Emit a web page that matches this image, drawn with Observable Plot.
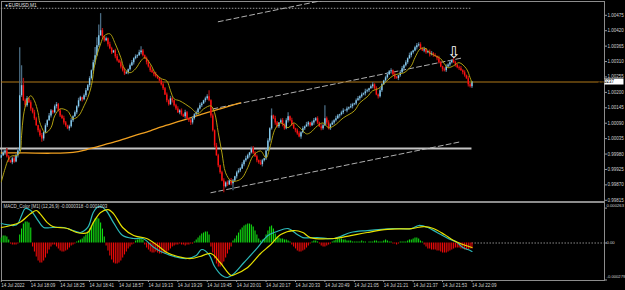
<!DOCTYPE html>
<html><head><meta charset="utf-8">
<script src="https://cdn.jsdelivr.net/npm/d3@7"></script>
<script src="https://cdn.jsdelivr.net/npm/@observablehq/plot@0.6"></script>
<style>
html,body{margin:0;padding:0;background:#000;}
#chart{width:625px;height:290px;overflow:hidden;background:#000;}
#chart svg{display:block;}
</style></head><body><div id="chart"></div>
<script>
// ---------- texts ----------
const symbolTitle = "EURUSD,M1";
const macdTitle = "MACD_Color [M1] (12,26,9) -0.0000318 -0.0001003";
const firstBar = "17:53";
const lastBar = "22:09";
// ---------- price axis (points, 1e-5) ----------
const yTickValues = [100475,100420,100365,100310,100255,100200,100145,100090,100035,99980,99925,99870,99815];
const yTickLabels = ["1.00475","1.00420","1.00365","1.00310","1.00255","1.00200","1.00145","1.00090","1.00035","0.99980","0.99925","0.99870","0.99815"];
const bidLevel = 100237, bidLabel = "1.00237";
const parityLevel = 100000;
const dottedLevel = 100500;
// ---------- time axis ----------
const xTickTimes = ["17:53","18:09","18:25","18:41","18:57","19:13","19:29","19:45","20:01","20:17","20:33","20:49","21:05","21:21","21:37","21:53","22:09"];
const xTickLabels = ["14 Jul 2022","14 Jul 18:09","14 Jul 18:25","14 Jul 18:41","14 Jul 18:57","14 Jul 19:13","14 Jul 19:29","14 Jul 19:45","14 Jul 20:01","14 Jul 20:17","14 Jul 20:33","14 Jul 20:49","14 Jul 21:05","14 Jul 21:21","14 Jul 21:37","14 Jul 21:53","14 Jul 22:09"];
// ---------- M1 candles (points) ----------
const open = [99965,99974,99984,99991,99970,99956,99949,99963,99952,99974,
99991,100188,100224,100170,100152,100177,100163,100141,100127,100106,
100081,100063,100045,100034,100056,100081,100099,100116,100134,100127,
100149,100156,100134,100116,100106,100091,100081,100070,100077,100099,
100113,100127,100149,100170,100181,100174,100188,100206,100224,100249,
100277,100306,100331,100366,100402,100420,100398,100384,100391,100370,
100356,100341,100348,100327,100313,100306,100291,100277,100266,100270,
100281,100295,100306,100320,100327,100331,100341,100348,100331,100320,
100306,100291,100277,100270,100263,100256,100249,100241,100227,100213,
100191,100170,100156,100177,100170,100152,100141,100127,100134,100120,
100113,100127,100106,100099,100091,100106,100120,100127,100141,100152,
100159,100170,100177,100184,100170,100116,100063,100009,99974,99938,
99913,99884,99863,99877,99870,99884,99874,99884,99899,99913,
99920,99927,99942,99956,99963,99974,99984,99999,99984,99970,
99956,99949,99942,99956,99963,99991,100027,100070,100116,100106,
100091,100077,100091,100099,100084,100070,100099,100113,100099,100084,
100070,100063,100052,100041,100056,100070,100077,100084,100091,100081,
100091,100099,100106,100091,100077,100070,100081,100106,100091,100070,
100084,100091,100099,100106,100116,100120,100127,100134,100134,100141,
100145,100149,100156,100159,100170,100177,100184,100191,100195,100202,
100206,100213,100220,100227,100213,100191,100184,100206,100227,100241,
100252,100263,100274,100277,100263,100252,100249,100259,100270,100284,
100295,100306,100320,100331,100341,100348,100359,100366,100370,100356,
100348,100352,100341,100345,100334,100338,100331,100327,100320,100306,
100291,100281,100277,100291,100298,100306,100313,100306,100298,100288,
100284,100277,100270,100259,100249,100227,100220];
const high = [99978,99991,99994,100000,99975,99958,99969,99971,99978,99998,
100359,100295,100250,100176,100185,100181,100170,100144,100136,100111,
100083,100069,100053,100060,100088,100102,100125,100139,100136,100155,
100164,100160,100141,100119,100115,100096,100083,100083,100107,100117,
100134,100152,100179,100186,100183,100194,100214,100228,100256,100280,
100315,100360,100395,100440,100481,100428,100402,100398,100394,100379,
100361,100350,100354,100335,100317,100313,100294,100286,100275,100283,
100301,100314,100324,100334,100334,100350,100363,100353,100333,100326,
100314,100295,100284,100273,100272,100261,100251,100247,100235,100217,
100198,100173,100186,100182,100172,100158,100149,100138,100141,100123,
100136,100132,100108,100105,100114,100124,100134,100144,100161,100164,
100172,100183,100192,100206,100174,100123,100066,100018,99979,99940,
99919,99892,99881,99884,99887,99893,99889,99901,99919,99928,
99931,99949,99959,99972,99979,99986,100005,100007,99988,99977,
99959,99958,99961,99965,99997,100035,100074,100141,100119,100115,
100096,100093,100105,100107,100088,100106,100127,100116,100108,100089,
100072,100069,100060,100060,100077,100080,100093,100096,100093,100097,
100107,100110,100113,100094,100086,100086,100152,100112,100099,100088,
100098,100102,100115,100121,100122,100133,100142,100138,100148,100148,
100158,100161,100161,100176,100185,100188,100198,100198,100211,100211,
100215,100226,100235,100231,100220,100194,100215,100232,100243,100258,
100271,100278,100284,100280,100272,100257,100261,100276,100292,100299,
100313,100323,100340,100346,100350,100365,100374,100377,100377,100359,
100361,100357,100347,100351,100346,100342,100338,100330,100329,100311,
100293,100287,100299,100302,100313,100316,100322,100311,100300,100294,
100292,100281,100277,100262,100258,100232,100239];
const low = [99960,99971,99976,99966,99950,99947,99942,99947,99949,99966,
99987,100182,100168,100145,100147,100160,100133,100123,100100,100079,
100056,100040,100022,100026,100052,100075,100097,100109,100122,100124,
100141,100130,100110,100104,100084,100076,100067,100062,100073,100093,
100111,100120,100144,100167,100166,100170,100182,100204,100217,100244,
100274,100298,100327,100360,100400,100391,100379,100381,100362,100352,
100335,100339,100320,100308,100303,100283,100273,100260,100264,100263,
100276,100292,100298,100316,100321,100329,100334,100326,100317,100298,
100287,100271,100268,100256,100251,100246,100233,100223,100207,100189,
100163,100151,100153,100162,100148,100135,100125,100120,100115,100110,
100105,100102,100093,100082,100084,100101,100117,100119,100137,100146,
100157,100163,100172,100167,100108,100059,100003,99972,99931,99908,
99881,99842,99859,99864,99868,99867,99849,99881,99891,99909,
99914,99925,99935,99951,99960,99966,99980,99978,99968,99949,
99944,99939,99934,99952,99957,99989,100020,100065,100103,100083,
100073,100071,100089,100077,100065,100067,100091,100095,100078,100068,
100056,100047,100038,100033,100052,100064,100075,100077,100076,100078,
100083,100095,100085,100075,100063,100065,100078,100083,100066,100064,
100082,100084,100094,100103,100108,100116,100121,100132,100127,100136,
100142,100141,100152,100153,100168,100170,100179,100188,100187,100198,
100200,100211,100213,100208,100188,100176,100180,100200,100225,100234,
100247,100260,100266,100259,100246,100247,100242,100254,100267,100276,
100291,100300,100318,100324,100336,100345,100351,100362,100350,100346,
100341,100336,100338,100326,100330,100325,100325,100313,100301,100288,
100273,100273,100271,100289,100291,100301,100303,100290,100284,100278,
100275,100263,100254,100246,100219,100216,100214];
const close = [99974,99984,99991,99970,99956,99949,99963,99952,99974,99991,
100188,100224,100170,100152,100177,100163,100141,100127,100106,100081,
100063,100045,100034,100056,100081,100099,100116,100134,100127,100149,
100156,100134,100116,100106,100091,100081,100070,100077,100099,100113,
100127,100149,100170,100181,100174,100188,100206,100224,100249,100277,
100306,100331,100366,100402,100420,100398,100384,100391,100370,100356,
100341,100348,100327,100313,100306,100291,100277,100266,100270,100281,
100295,100306,100320,100327,100331,100341,100348,100331,100320,100306,
100291,100277,100270,100263,100256,100249,100241,100227,100213,100191,
100170,100156,100177,100170,100152,100141,100127,100134,100120,100113,
100127,100106,100099,100091,100106,100120,100127,100141,100152,100159,
100170,100177,100184,100170,100116,100063,100009,99974,99938,99913,
99884,99863,99877,99870,99884,99874,99884,99899,99913,99920,
99927,99942,99956,99963,99974,99984,99999,99984,99970,99956,
99949,99942,99956,99963,99991,100027,100070,100116,100106,100091,
100077,100091,100099,100084,100070,100099,100113,100099,100084,100070,
100063,100052,100041,100056,100070,100077,100084,100091,100081,100091,
100099,100106,100091,100077,100070,100081,100106,100091,100070,100084,
100091,100099,100106,100116,100120,100127,100134,100134,100141,100145,
100149,100156,100159,100170,100177,100184,100191,100195,100202,100206,
100213,100220,100227,100213,100191,100184,100206,100227,100241,100252,
100263,100274,100277,100263,100252,100249,100259,100270,100284,100295,
100306,100320,100331,100341,100348,100359,100366,100370,100356,100348,
100352,100341,100345,100334,100338,100331,100327,100320,100306,100291,
100281,100277,100291,100298,100306,100313,100306,100298,100288,100284,
100277,100270,100259,100249,100227,100220,100237];
// ---------- moving averages (points) ----------
const maFastTimes = ["17:53","17:55","17:57","17:59","18:01","18:03","18:04","18:05","18:07","18:09","18:11","18:13","18:14","18:17","18:20","18:22","18:25","18:29","18:32","18:35","18:38","18:40","18:42","18:44","18:47","18:49","18:52","18:55","18:58","19:00","19:03","19:06","19:09","19:11","19:14","19:17","19:20","19:23","19:25","19:27","19:30","19:36","19:40","19:43","19:47","19:49","19:51","19:53","19:55","19:58","20:01","20:04","20:07","20:10","20:14","20:17","20:19","20:22","20:25","20:29","20:32","20:36","20:39","20:41","20:45","20:48","20:51","20:54","20:59","21:05","21:08","21:12","21:15","21:18","21:20","21:26","21:29","21:32","21:36","21:38","21:41","21:44","21:46","21:49","21:52","21:54","21:56","21:59","22:02","22:06","22:08","22:09"];
const maFastValues = [99881,99927,99963,99974,99974,99984,100045,100116,100170,100188,100170,100127,100091,100056,100074,100116,100141,100134,100106,100116,100152,100181,100224,100306,100373,100402,100409,100373,100324,100284,100270,100284,100313,100324,100302,100266,100249,100241,100206,100177,100170,100145,100124,100141,100152,100127,100056,99984,99913,99884,99884,99895,99931,99974,99991,99966,100002,100070,100091,100074,100091,100070,100052,100056,100081,100091,100074,100081,100109,100134,100163,100184,100206,100213,100224,100259,100266,100270,100295,100324,100356,100356,100341,100331,100320,100302,100288,100295,100306,100284,100252,100234];
const maSlowTimes = ["17:53","18:06","18:20","18:32","18:39","18:45","18:55","19:05","19:14","19:20","19:31","19:41","19:52","20:01","20:03"];
const maSlowValues = [99984,99984,99983,99986,99995,100006,100024,100045,100063,100077,100099,100120,100141,100159,100163];
// ---------- drawn objects ----------
const channelNames = ["top","middle","bottom"];
const channelTimes = [["19:51","20:50"],["19:48","22:03"],["19:47","22:03"]];
const channelValues = [[100452,100531],[100141,100322],[99842,100024]];
const arrowTime = "21:59", arrowPrice = 100341, arrowGlyph = "\u21E9";
// ---------- MACD (units of 1e-6) ----------
const macdHist = [38,53,53,45,23,-8,-15,-15,-15,-8,
60,105,143,158,158,151,113,-30,-68,-105,
-136,-151,-151,-136,-113,-83,-53,-30,-15,-15,
-30,-45,-60,-68,-68,-60,-53,-38,-23,-15,
-8,8,15,23,30,45,60,83,105,128,
151,181,188,181,151,105,45,-23,-60,-98,
-128,-151,-158,-158,-151,-136,-113,-90,-68,-45,
-30,-15,-8,15,23,30,30,23,-15,-38,
-53,-68,-75,-75,-68,-75,-83,-83,-75,-83,
-75,-60,-45,-30,-23,-15,-15,-8,-15,-15,
-23,-15,-15,-8,-8,8,23,38,53,68,
75,83,83,60,-30,-75,-120,-158,-181,-181,
-166,-143,-113,-83,-53,-30,15,30,53,75,
98,113,128,136,143,143,136,120,90,60,
30,15,23,30,60,90,120,128,105,68,
45,38,30,30,23,23,15,8,-15,-30,
-45,-60,-68,-68,-60,-53,-38,-23,-8,8,
15,15,8,-8,-23,-30,-30,-23,-15,-8,
8,15,23,30,30,30,23,23,15,15,
15,8,8,8,8,8,15,8,8,0,
8,8,8,15,15,8,8,8,15,23,
15,8,8,-8,-8,-15,-8,8,8,8,
8,15,23,23,30,38,38,30,15,8,
-15,-30,-45,-45,-53,-53,-53,-60,-60,-68,
-75,-75,-75,-68,-60,-53,-45,-38,-38,-38,
-45,-45,-53,-53,-53,-45,-45];
const macdTimes = ["17:53","17:56","18:00","18:02","18:04","18:06","18:09","18:13","18:16","18:21","18:27","18:32","18:36","18:40","18:43","18:45","18:47","18:50","18:54","18:59","19:05","19:10","19:16","19:21","19:27","19:34","19:39","19:42","19:46","19:49","19:53","19:56","19:59","20:05","20:12","20:18","20:23","20:29","20:34","20:37","20:45","20:54","21:03","21:12","21:26","21:36","21:40","21:45","21:50","21:56","22:01","22:04","22:08","22:09"];
const macdValues = [147,139,132,147,207,260,245,169,117,117,117,94,79,117,230,267,275,245,154,56,34,34,-34,-72,-102,-117,-94,-49,-87,-177,-245,-260,-237,-147,-41,56,87,109,64,41,41,34,79,94,109,109,132,117,79,34,4,-34,-56,-64];
const signalTimes = ["17:53","17:58","18:03","18:09","18:12","18:14","18:18","18:21","18:29","18:34","18:40","18:43","18:47","18:51","18:54","18:59","19:05","19:12","19:18","19:23","19:29","19:36","19:41","19:47","19:52","19:58","20:00","20:07","20:14","20:19","20:25","20:32","20:37","20:41","20:54","21:03","21:12","21:23","21:36","21:43","21:48","21:54","21:59","22:04","22:09"];
const signalValues = [117,132,154,222,245,222,154,124,109,79,79,154,230,252,222,117,56,34,-19,-72,-102,-117,-102,-79,-147,-245,-237,-184,-79,-19,64,94,79,41,34,56,79,102,109,124,109,64,19,-11,-34];
const macdTickValues = [263, 0, -279];
const macdTickLabels = ["0.000263", "0.00", "-0.000279"];

// ---------- build tables ----------
const T = s => { const [h, m] = s.split(":").map(Number); return new Date(Date.UTC(2022, 6, 14, h, m)); };
const t0 = T(firstBar);
const bars = close.map((c, i) => ({t: new Date(+t0 + i * 60000), o: open[i], h: high[i], l: low[i], c}));
const upBars = bars.filter(d => d.c >= d.o);
const dnBars = bars.filter(d => d.c < d.o);
const pts = (times, vals) => times.map((s, i) => ({t: T(s), v: vals[i]}));
const maFast = pts(maFastTimes, maFastValues);
const maSlow = pts(maSlowTimes, maSlowValues);
const channels = channelNames.flatMap((n, k) => channelTimes[k].map((s, j) => ({id: n, t: T(s), v: channelValues[k][j]})));
const hist = macdHist.map((v, i) => ({t: bars[i].t, v}));
const histUp = hist.filter(d => d.v >= 0), histDn = hist.filter(d => d.v < 0);
const macdLine = pts(macdTimes, macdValues);
const signalLine = pts(signalTimes, signalValues);
const yLabel = new Map(yTickValues.map((v, i) => [v, yTickLabels[i]]));
const xTickDates = xTickTimes.map(T);
const xLabel = new Map(xTickDates.map((d, i) => [+d, xTickLabels[i]]));

const FONT = "'Liberation Sans', Arial, sans-serif";
const style = {background: "#000", color: "#d2d2d2", fontFamily: FONT, fontSize: "4.5px", overflow: "visible"};
const xScale = {type: "utc", domain: [T("17:52"), T("23:20")], range: [-1, 602], label: null};
const frameGray = "#8c8c8c";

const main = Plot.plot({
  width: 625, height: 202,
  marginLeft: 1, marginRight: 21, marginTop: 1, marginBottom: 1,
  style,
  x: {...xScale, axis: null},
  y: {domain: [99815, 100475], range: [199.8, 14.8], label: null},
  marks: [
    Plot.frame({stroke: frameGray}),
    Plot.ruleY([{p: dottedLevel, t1: T(firstBar), t2: T(lastBar)}], {y: "p", x1: "t1", x2: "t2", stroke: "#9a9a9a", strokeDasharray: "1.5,1.5"}),
    Plot.ruleY([{p: parityLevel, t1: T("17:52"), t2: T(lastBar)}], {y: "p", x1: "t1", x2: "t2", stroke: "#c4c4c4", strokeWidth: 2}),
    Plot.line(channels, {x: "t", y: "v", z: "id", stroke: "#b0b0b0", strokeDasharray: "5,3", strokeWidth: 1, clip: true}),
    Plot.line(maSlow, {x: "t", y: "v", stroke: "#f0a020", strokeWidth: 1.3, curve: "catmull-rom"}),
    Plot.ruleY([bidLevel], {stroke: "#b07818", strokeWidth: 1}),
    Plot.ruleX(upBars, {x: "t", y1: "l", y2: "h", stroke: "#4a6b82", strokeWidth: 1.3}),
    Plot.ruleX(dnBars, {x: "t", y1: "l", y2: "h", stroke: "#a81010", strokeWidth: 1.3}),
    Plot.ruleX(upBars, {x: "t", y1: "o", y2: "c", stroke: "#87cdf0", strokeWidth: 1.4}),
    Plot.ruleX(dnBars, {x: "t", y1: "o", y2: "c", stroke: "#ff1010", strokeWidth: 1.4}),
    Plot.line(maFast, {x: "t", y: "v", stroke: "#b0a010", strokeWidth: 1, curve: "catmull-rom"}),
    Plot.text([{t: T(arrowTime), p: arrowPrice}], {x: "t", y: "p", text: () => arrowGlyph, fill: "#ffffff", fontSize: 16, fontFamily: "'DejaVu Sans'"}),
    Plot.axisY(yTickValues, {anchor: "right", tickSize: 2, tickPadding: 1, stroke: "#9a9a9a", fill: "#d2d2d2", fontSize: 4.5, tickFormat: d => yLabel.get(d)}),
    Plot.text(["\u25BC"], {frameAnchor: "top-left", dx: 3, dy: 4, textAnchor: "start", lineAnchor: "middle", fill: "#e0e0e0", fontSize: 4}),
    Plot.text([symbolTitle], {frameAnchor: "top-left", dx: 7, dy: 4, textAnchor: "start", lineAnchor: "middle", fill: "#e0e0e0", fontSize: 4.8})
  ]
});

const macd = Plot.plot({
  width: 625, height: 88,
  marginLeft: 1, marginRight: 21, marginTop: 0, marginBottom: 10,
  style,
  x: xScale,
  y: {domain: [-300, 300], range: [80.3, 0.7], axis: null, label: null},
  marks: [
    Plot.frame({stroke: frameGray}),
    Plot.ruleY([{v: 0, t1: T(lastBar), t2: T("23:21")}], {y: "v", x1: "t1", x2: "t2", stroke: "#8a8a8a", strokeDasharray: "1.5,1.5"}),
    Plot.ruleX(histUp, {x: "t", y1: 0, y2: "v", stroke: "#12dd12", strokeWidth: 1.1}),
    Plot.ruleX(histDn, {x: "t", y1: 0, y2: "v", stroke: "#ee0a0a", strokeWidth: 1.1}),
    Plot.line(macdLine, {x: "t", y: "v", stroke: "#2cb8b8", strokeWidth: 1.2, curve: "catmull-rom"}),
    Plot.line(signalLine, {x: "t", y: "v", stroke: "#e6e000", strokeWidth: 1.2, curve: "catmull-rom"}),
    Plot.axisX(xTickDates, {anchor: "bottom", tickSize: 2, tickPadding: 1, textAnchor: "start", stroke: "#9a9a9a", fill: "#d2d2d2", fontSize: 4.5, tickFormat: d => xLabel.get(+d)}),
    Plot.axisY(macdTickValues, {anchor: "right", tickSize: 2, tickFormat: () => "", stroke: "#9a9a9a"}),
    Plot.text([macdTickValues[0]], {y: d => d, text: () => macdTickLabels[0], frameAnchor: "right", textAnchor: "start", dx: 2, dy: -2.5, fill: "#d2d2d2", fontSize: 4.2}),
    Plot.text([macdTickValues[1]], {y: d => d, text: () => macdTickLabels[1], frameAnchor: "right", textAnchor: "start", dx: 2, dy: 0, fill: "#d2d2d2", fontSize: 4.2}),
    Plot.text([macdTickValues[2]], {y: d => d, text: () => macdTickLabels[2], frameAnchor: "right", textAnchor: "start", dx: 2, dy: -3.5, fill: "#d2d2d2", fontSize: 4.2}),
    Plot.text([macdTitle], {frameAnchor: "top-left", dx: 2, dy: 4.5, textAnchor: "start", lineAnchor: "middle", fill: "#d2d2d2", fontSize: 4.5})
  ]
});

// current bid price label box on the price scale
const yb = main.scale("y").apply(bidLevel);
const g = d3.select(main).append("g");
g.append("rect").attr("x", 604.5).attr("y", yb - 3).attr("width", 19).attr("height", 6).attr("fill", "#ffffff");
g.append("text").attr("x", 606).attr("y", yb).attr("dy", "0.35em").attr("fill", "#000").attr("font-size", 4.5).attr("font-family", FONT).text(bidLabel);

const host = document.getElementById("chart");
host.append(main, macd);
</script>
</body></html>
